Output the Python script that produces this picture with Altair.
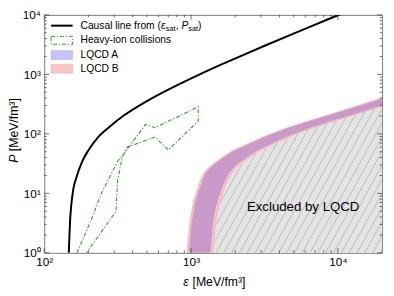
import altair as alt
import numpy as np
import pandas as pd

# ---------------- data ----------------
causal_eps = [147, 148, 150, 153, 158, 165, 180, 200, 233, 280, 350, 450, 584, 800, 1100, 1600, 2300, 3200, 4500, 6500, 8500, 10500]
causal_P = [1.0, 1.6, 3.5, 6.5, 12, 18, 33, 53, 88, 133, 205, 305, 440, 655, 955, 1455, 2155, 3055, 4355, 6355, 8355, 10350]

hic_eps = [167, 210, 245, 316, 351, 489, 569, 1120, 1120, 699, 569, 369, 341, 316, 308, 194]
hic_P = [1.0, 3.7, 10, 34.5, 47, 144, 127, 286, 164, 53.5, 88, 60, 42, 16.4, 5.0, 1.0]

band_P = [0.5, 1, 2.5, 5, 7.8, 13.6, 20, 23.7, 30, 37, 50, 72.5, 118, 215, 390, 700]
lqcd_a_left = [960, 970, 1000, 1040, 1080, 1160, 1235, 1290, 1420, 1600, 1920, 2650, 4300, 9261, 19953, 42000]
lqcd_a_right = [1350, 1360, 1400, 1455, 1530, 1650, 1780, 1870, 2040, 2300, 2740, 3700, 6000, 12900, 27900, 58000]
lqcd_b_left = [935, 944, 973, 1012, 1050, 1128, 1202, 1255, 1382, 1557, 1868, 2580, 4185, 9010, 19420, 40900]
lqcd_b_right = [1400, 1410, 1452, 1510, 1587, 1712, 1846, 1940, 2118, 2385, 2840, 3840, 6220, 13380, 28930, 60100]

x_major = [100, 1000, 10000]
x_minor = [200, 300, 400, 500, 600, 700, 800, 900, 2000, 3000, 4000, 5000, 6000, 7000, 8000, 9000]
y_major = [1, 10, 100, 1000, 10000]
y_minor = [m * 10 ** k for k in range(4) for m in range(2, 10)]

excluded_label = "Excluded by LQCD"
legend_labels = ["Heavy-ion collisions", "LQCD A", "LQCD B"]

# ---------------- layout / style ----------------
W, H = 345, 243
FONT = "Liberation Sans"
GREEN = "#22a022"
xs = alt.Scale(type="log", domain=[100, 20000])
ys = alt.Scale(type="log", domain=[1, 10000])
sup = "['⁰','¹','²','³','⁴','⁵']"
label_expr = "'10' + " + sup + "[round(log(datum.value)/LN10)]"
xaxis = alt.Axis(values=x_major, labelExpr=label_expr, ticks=False, domain=False, grid=False,
                 title=None, labelFont=FONT, labelFontSize=12, labelColor="black",
                 labelPadding=4, labelFlush=False, labelOverlap=False)
yaxis = alt.Axis(values=y_major, labelExpr=label_expr, ticks=False, domain=False, grid=False,
                 title=None, labelFont=FONT, labelFontSize=12, labelColor="black",
                 labelPadding=4, labelOverlap=False)


def X(f):
    return alt.X(f, type="quantitative", scale=xs, axis=xaxis)


def Y(f):
    return alt.Y(f, type="quantitative", scale=ys, axis=yaxis)


band = pd.DataFrame({"P": band_P, "al": lqcd_a_left, "ar": lqcd_a_right,
                     "bl": lqcd_b_left, "br": lqcd_b_right, "edge": 1e6})

excluded = alt.Chart(band).mark_area(orient="horizontal", color="#e3e3e3", clip=True,
                                     interpolate="monotone").encode(
    y=Y("P"), x=X("br"), x2="edge")

# hatch lines (style) inside the excluded region
lp = np.log10(band_P)
lbr = np.log10(lqcd_b_right)
k = 1.8 * 150 / 60.75
rows = []
logP = np.linspace(-0.2, 3.0, 400)
for i, c in enumerate(np.arange(2.85, 4.8, 8 / 150)):
    loge = c + logP / k
    bound = np.interp(logP, lp, lbr)
    for j in np.where(loge >= bound + 0.004)[0]:
        rows.append({"id": i, "o": int(j), "eps": 10 ** loge[j], "P": 10 ** logP[j]})
hatch = alt.Chart(pd.DataFrame(rows)).mark_line(clip=True, stroke="#9c9c9c", strokeWidth=0.6).encode(
    x=X("eps"), y=Y("P"), detail="id:N", order="o:Q")

band_b = alt.Chart(band).mark_area(orient="horizontal", fill="#f6c4c4", stroke="#f2a8a8",
                                   strokeWidth=0.8, clip=True, interpolate="monotone").encode(
    y=Y("P"), x=X("bl"), x2="br")
band_a = alt.Chart(band).mark_area(orient="horizontal", fill="#c999c9", clip=True,
                                   interpolate="monotone").encode(
    y=Y("P"), x=X("al"), x2="ar")

hic = alt.Chart(pd.DataFrame({"eps": hic_eps, "P": hic_P, "i": range(len(hic_P))})).mark_line(
    clip=True, color=GREEN, strokeWidth=1.1, strokeDash=[4, 2, 1.2, 2]).encode(
    x=X("eps"), y=Y("P"), order="i:Q")

causal = alt.Chart(pd.DataFrame({"eps": causal_eps, "P": causal_P, "i": range(len(causal_P))})).mark_line(
    clip=True, color="black", strokeWidth=2, interpolate="monotone").encode(
    x=X("eps"), y=Y("P"), order="i:Q")

ex_text = alt.Chart(pd.DataFrame({"eps": [5800], "P": [5.8], "t": [excluded_label]})).mark_text(
    font=FONT, fontSize=13.5, color="black").encode(x=X("eps"), y=Y("P"), text="t:N")

# inward ticks on all four sides
TC = "#444444"
tick_layers = []
for vals, L in [(x_major, 5), (x_minor, 2.5)]:
    d = pd.DataFrame({"v": vals})
    tick_layers.append(alt.Chart(d).mark_rule(color=TC, strokeWidth=0.8).encode(
        x=X("v"), y=alt.value(H), y2=alt.value(H - L)))
    tick_layers.append(alt.Chart(d).mark_rule(color=TC, strokeWidth=0.8).encode(
        x=X("v"), y=alt.value(0), y2=alt.value(L)))
for vals, L in [(y_major, 5), (y_minor, 2.5)]:
    d = pd.DataFrame({"v": vals})
    tick_layers.append(alt.Chart(d).mark_rule(color=TC, strokeWidth=0.8).encode(
        y=Y("v"), x=alt.value(0), x2=alt.value(L)))
    tick_layers.append(alt.Chart(d).mark_rule(color=TC, strokeWidth=0.8).encode(
        y=Y("v"), x=alt.value(W), x2=alt.value(W - L)))

# ---------------- manual legend ----------------
one = pd.DataFrame({"a": [0]})
LX0, LX1, TX = 7, 29, 37
ly = [11, 26, 41, 55]
leg = []
leg.append(alt.Chart(one).mark_rule(color="black", strokeWidth=2).encode(
    x=alt.value(LX0), x2=alt.value(LX1), y=alt.value(ly[0])))
leg.append(alt.Chart(one).mark_rect(fill="white", stroke=GREEN, strokeWidth=1, strokeDash=[4, 2, 1.2, 2]).encode(
    x=alt.value(LX0), x2=alt.value(LX1), y=alt.value(ly[1] - 4), y2=alt.value(ly[1] + 4)))
leg.append(alt.Chart(one).mark_rect(fill="#c4c4f6", stroke="#b0b0f0", strokeWidth=0.6).encode(
    x=alt.value(LX0), x2=alt.value(LX1), y=alt.value(ly[2] - 4.5), y2=alt.value(ly[2] + 4.5)))
leg.append(alt.Chart(one).mark_rect(fill="#f8c6c6", stroke="#f2aaaa", strokeWidth=0.6).encode(
    x=alt.value(LX0), x2=alt.value(LX1), y=alt.value(ly[3] - 4.5), y2=alt.value(ly[3] + 4.5)))

FS, SFS = 10.5, 7.5


def txt(s, x, y, size=FS, style="normal", align="left", angle=0):
    return alt.Chart(one).mark_text(text=s, font=FONT, fontSize=size, fontStyle=style,
                                    align=align, baseline="middle", color="black", angle=angle).encode(
        x=alt.value(x), y=alt.value(y))


# (text, size, style, dy, advance in em)
pieces = [("Causal line from (", FS, "normal", 0, 7.835),
          ("ε", FS, "italic", 0, 0.47),
          ("sat", SFS, "normal", 3, 1.334),
          (",", FS, "normal", 0, 0.556),
          ("P", FS, "italic", 0, 0.667),
          ("sat", SFS, "normal", 3, 1.334),
          (")", FS, "normal", 0, 0.333)]
x0 = TX
for s, size, style, dy, w in pieces:
    leg.append(txt(s, x0, ly[0] + dy, size, style))
    x0 += w * size
for i, lab in enumerate(legend_labels):
    leg.append(txt(lab, TX, ly[i + 1]))

# axis titles
AT = 12.5
leg.append(txt("ε", 142, 273, AT, "italic"))
leg.append(txt("[MeV/fm³]", 142 + 5.9 + 3.5, 273, AT))
leg.append(txt("P", -31, 119 + 32, AT, "italic", angle=270))
leg.append(txt("[MeV/fm³]", -31, 119 + 32 - 8.3 - 3.5, AT, angle=270))

chart = alt.layer(excluded, hatch, band_b, band_a, hic, causal, ex_text, *tick_layers, *leg).properties(
    width=W, height=H, autosize="none",
    padding={"left": 37, "top": 4, "right": 4, "bottom": 39}
).configure_view(stroke="#7a7a7a", strokeWidth=1)

chart.save("out.html", embed_options={"renderer": "svg", "actions": False})
